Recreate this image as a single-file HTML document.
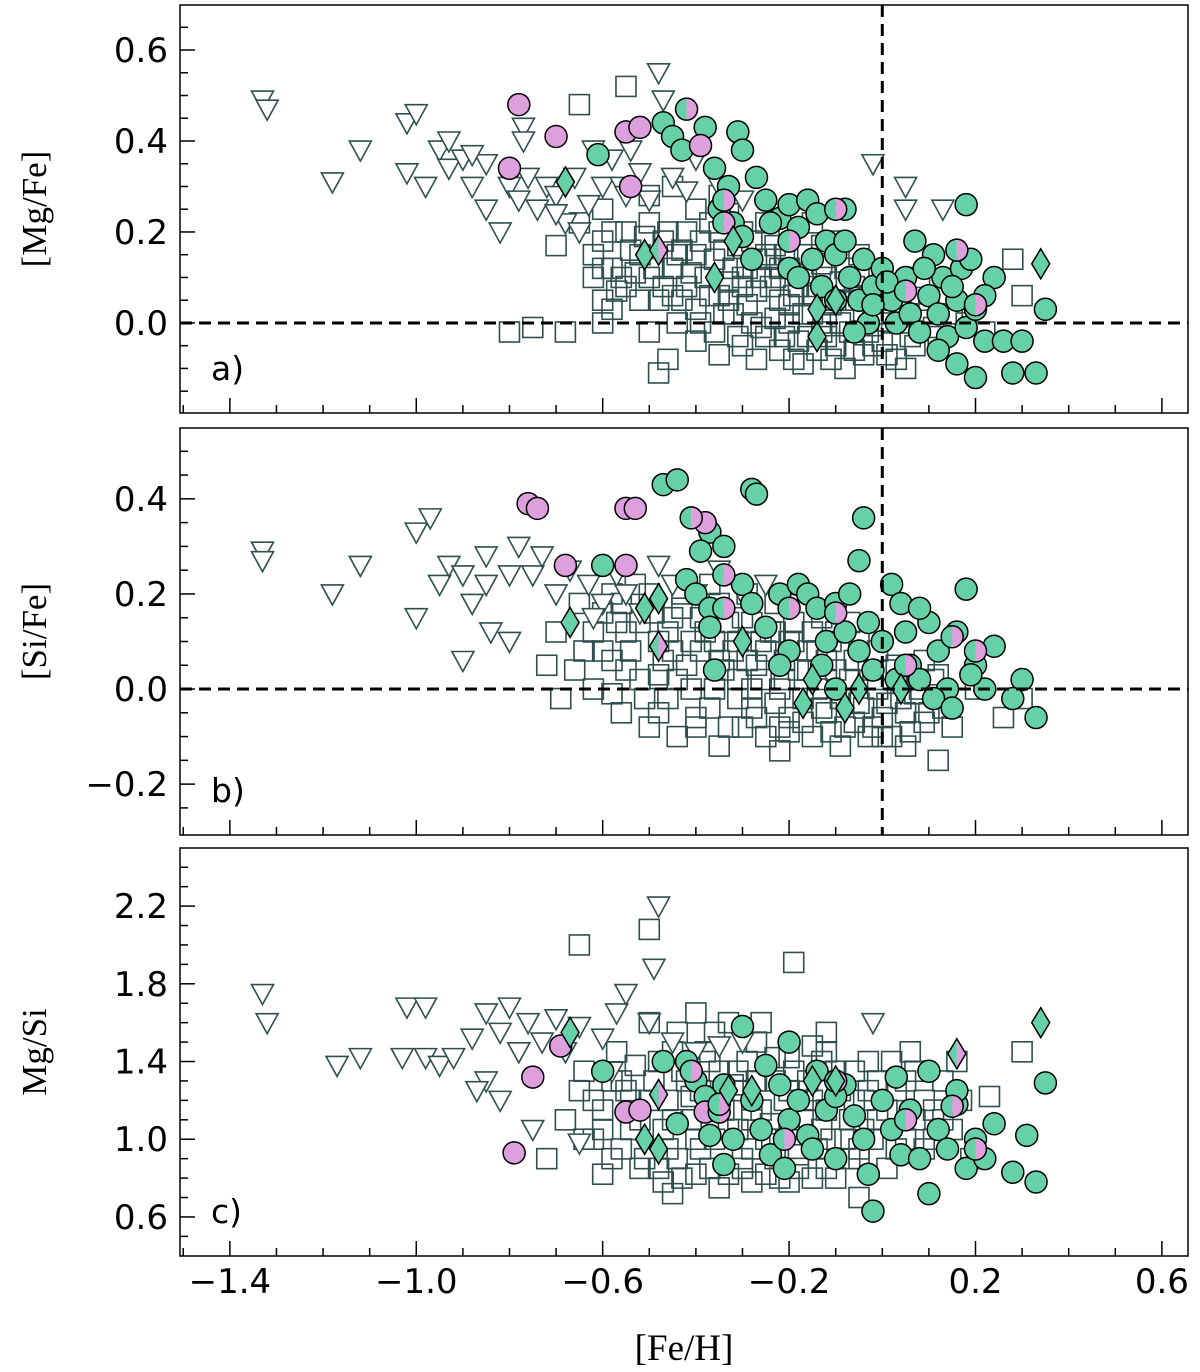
<!DOCTYPE html>
<html><head><meta charset="utf-8"><style>
html,body{margin:0;padding:0;background:#fff;}
svg{display:block;}
</style></head><body>
<svg id="chart" width="1200" height="1372" viewBox="0 0 1200 1372" xmlns="http://www.w3.org/2000/svg"></svg>
<script>
const xTickVals=[-1.4,-1.0,-0.6,-0.2,0.2,0.6];
const xTickLabels=["\u22121.4","\u22121.0","\u22120.6","\u22120.2","0.2","0.6"];
const yTicksA=[0.0,0.2,0.4,0.6]; const yLabelsA=["0.0","0.2","0.4","0.6"];
const yTicksB=[-0.2,0.0,0.2,0.4]; const yLabelsB=["\u22120.2","0.0","0.2","0.4"];
const yTicksC=[0.6,1.0,1.4,1.8,2.2]; const yLabelsC=["0.6","1.0","1.4","1.8","2.2"];

const squaresA=[[-0.55,0.52],[-0.65,0.48],[-0.48,-0.11],[-0.7,0.17],[-0.65,0.22],[-0.6,0.18],[-0.58,0.12],[-0.55,0.2],[-0.55,0.08],[-0.52,0.15],[-0.5,0.1],[-0.5,0.22],[-0.48,0.05],[-0.47,0.18],[-0.45,0.12],[-0.44,0.0],[-0.42,0.2],[-0.42,0.08],[-0.4,0.15],[-0.4,0.03],[-0.38,0.1],[-0.37,0.22],[-0.36,-0.02],[-0.35,0.06],[-0.34,0.16],[-0.32,0.12],[-0.32,0.02],[-0.3,0.08],[-0.3,-0.05],[-0.28,0.18],[-0.28,0.0],[-0.26,0.1],[-0.25,-0.03],[-0.24,0.14],[-0.22,0.05],[-0.22,-0.06],[-0.2,0.12],[-0.2,0.0],[-0.18,0.08],[-0.18,-0.04],[-0.16,0.15],[-0.15,0.02],[-0.14,-0.06],[-0.12,0.1],[-0.12,0.0],[-0.1,0.05],[-0.1,-0.05],[-0.08,0.12],[-0.07,-0.02],[-0.05,0.06],[-0.04,-0.07],[-0.02,0.02],[0.0,-0.04],[0.02,0.08],[0.03,-0.08],[0.05,0.0],[0.07,-0.05],[0.1,0.05],[0.12,-0.03],[0.15,0.02],[0.28,0.14],[0.3,0.06],[-0.5,-0.02],[-0.8,-0.02],[-0.75,-0.01],[-0.68,-0.02],[-0.6,0.0],[-0.46,-0.08],[-0.6,0.25],[-0.5,0.28],[-0.45,0.3],[-0.4,0.25],[-0.35,0.28],[-0.3,0.2],[-0.25,0.22],[-0.2,0.2],[-0.15,0.22],[-0.1,0.18],[-0.05,0.15],[0.0,0.1],[-0.6,0.05],[-0.35,-0.07],[-0.27,-0.08],[-0.17,-0.09],[-0.08,-0.1],[0.05,-0.1],[-0.62,0.1],[-0.58,0.03],[-0.33,0.24],[-0.23,0.17],[-0.13,0.17],[-0.03,0.1],[0.08,0.1],[0.18,0.0],[0.22,-0.02],
[-0.62,0.15],[-0.6,0.12],[-0.58,0.2],[-0.56,0.1],[-0.54,0.16],[-0.52,0.05],[-0.51,0.19],[-0.49,0.12],[-0.47,0.08],[-0.46,0.2],[-0.44,0.15],[-0.43,0.05],[-0.41,0.11],[-0.39,0.18],[-0.39,0.0],[-0.37,0.06],[-0.36,0.14],[-0.34,0.02],[-0.33,0.09],[-0.31,0.17],[-0.31,-0.03],[-0.29,0.04],[-0.29,0.12],[-0.27,0.07],[-0.26,-0.01],[-0.25,0.15],[-0.23,0.1],[-0.23,0.01],[-0.21,-0.03],[-0.21,0.15],[-0.19,0.06],[-0.19,-0.08],[-0.17,0.11],[-0.17,0.02],[-0.16,-0.03],[-0.14,0.08],[-0.13,0.13],[-0.13,-0.02],[-0.11,0.04],[-0.11,-0.08],[-0.09,0.09],[-0.09,0.0],[-0.07,0.05],[-0.06,-0.06],[-0.05,0.1],[-0.03,-0.02],[-0.01,0.05],[0.01,-0.07],[0.02,0.0],[0.04,0.04],[0.06,-0.03],[0.09,0.02],[0.11,-0.01],[-0.45,0.06],[-0.35,0.2],[-0.27,0.14],[-0.2,0.04],[-0.12,-0.03],[-0.04,0.02],[-0.57,0.07],[-0.53,0.11],[-0.43,0.16],[-0.33,0.05],[-0.24,0.08],[-0.15,0.06],[-0.06,0.08],[-0.02,-0.05],[-0.4,-0.04],[-0.3,0.1],[-0.22,0.12]];
const trianglesA=[[-1.33,0.49],[-1.32,0.47],[-1.18,0.31],[-1.12,0.38],[-1.02,0.44],[-1.0,0.46],[-1.02,0.33],[-0.98,0.3],[-0.95,0.38],[-0.93,0.34],[-0.9,0.36],[-0.88,0.3],[-0.85,0.35],[-0.85,0.25],[-0.82,0.2],[-0.8,0.3],[-0.78,0.27],[-0.76,0.32],[-0.74,0.25],[-0.72,0.3],[-0.7,0.28],[-0.68,0.22],[-0.66,0.32],[-0.63,0.26],[-0.6,0.3],[-0.58,0.36],[-0.56,0.3],[-0.54,0.38],[-0.52,0.33],[-0.5,0.27],[-0.48,0.55],[-0.47,0.49],[-0.45,0.32],[-0.42,0.29],[-0.4,0.36],[-0.77,0.43],[-0.77,0.4],[-0.62,0.38],[-0.55,0.28],[-0.02,0.35],[0.05,0.3],[0.05,0.25],[0.13,0.25],[-0.35,0.3],[-0.3,0.27],[-0.88,0.37],[-0.93,0.4],[-0.7,0.24],[-0.65,0.2]];
const circlesA=[[-0.61,0.37],[-0.47,0.44],[-0.45,0.41],[-0.43,0.38],[-0.38,0.43],[-0.36,0.34],[-0.33,0.3],[-0.31,0.42],[-0.3,0.38],[-0.27,0.32],[-0.35,0.25],[-0.32,0.22],[-0.3,0.19],[-0.28,0.14],[-0.25,0.27],[-0.22,0.23],[-0.2,0.26],[-0.18,0.21],[-0.16,0.27],[-0.14,0.24],[-0.12,0.18],[-0.1,0.15],[-0.08,0.25],[-0.2,0.12],[-0.18,0.1],[-0.15,0.14],[-0.13,0.08],[-0.1,0.05],[-0.07,0.1],[-0.05,0.05],[-0.03,0.0],[-0.04,0.14],[-0.02,0.08],[0.0,0.12],[0.02,0.05],[0.03,0.0],[0.05,0.1],[0.06,0.02],[0.08,-0.02],[0.1,0.06],[0.12,0.02],[0.13,0.1],[0.14,-0.03],[0.16,0.05],[0.17,0.12],[0.18,-0.01],[0.2,0.03],[0.22,-0.04],[0.24,0.1],[0.26,-0.04],[0.28,-0.11],[0.33,-0.11],[0.35,0.03],[0.3,-0.04],[0.18,0.26],[0.07,0.18],[0.11,0.15],[0.16,-0.09],[0.2,-0.12],[0.12,-0.06],[-0.02,0.04],[0.09,0.12],[0.19,0.14],[-0.24,0.22],[-0.08,0.18],[0.01,0.09],[0.15,0.08],[0.22,0.06],[-0.06,-0.02]];
const pinkA=[[-0.78,0.48],[-0.7,0.41],[-0.55,0.42],[-0.52,0.43],[-0.8,0.34],[-0.54,0.3],[-0.39,0.39]];
const halfA=[[-0.42,0.47],[-0.34,0.27],[-0.34,0.22],[-0.2,0.18],[-0.1,0.25],[0.05,0.07],[0.16,0.16],[0.2,0.04]];
const diamondsA=[[-0.68,0.31],[-0.51,0.15],[-0.36,0.1],[-0.32,0.18],[-0.14,0.03],[-0.14,-0.03],[0.34,0.13],[-0.1,0.05]];
const halfDiamondsA=[[-0.48,0.16]];

const squaresB=[[-0.72,0.05],[-0.69,-0.02],[-0.56,-0.05],[-0.22,-0.13],[0.12,-0.15],[-0.7,0.12],[-0.65,0.18],[-0.6,0.08],[-0.58,0.2],[-0.55,0.12],[-0.52,0.02],[-0.5,0.2],[-0.48,0.1],[-0.46,-0.02],[-0.45,0.15],[-0.42,0.05],[-0.4,-0.06],[-0.38,0.12],[-0.36,0.0],[-0.35,0.18],[-0.33,-0.08],[-0.32,0.08],[-0.3,0.15],[-0.28,-0.04],[-0.27,0.05],[-0.25,-0.1],[-0.24,0.12],[-0.22,0.0],[-0.2,-0.06],[-0.19,0.1],[-0.17,-0.02],[-0.15,-0.1],[-0.14,0.08],[-0.12,-0.05],[-0.1,0.04],[-0.08,-0.08],[-0.06,0.06],[-0.05,-0.03],[-0.03,-0.1],[-0.02,0.02],[0.0,-0.06],[0.02,0.04],[0.04,-0.02],[0.06,-0.09],[0.08,0.0],[0.1,-0.05],[0.12,0.03],[0.15,-0.08],[0.2,0.0],[0.26,-0.06],[0.3,-0.02],[-0.62,0.0],[-0.53,0.22],[-0.43,0.2],[-0.37,0.22],[-0.29,0.2],[-0.5,-0.08],[-0.44,-0.1],[-0.35,-0.12],[-0.23,0.18],[-0.13,0.15],[-0.09,-0.12],[0.05,-0.12],[-0.58,-0.01],[-0.48,0.03],[-0.41,0.1],[-0.31,0.02],[-0.21,0.06],[-0.11,0.1],[-0.01,0.08],[0.09,0.06],[-0.66,0.04],[-0.57,0.14],[-0.26,0.1],[-0.16,0.04],[0.0,-0.1],
[-0.62,0.12],[-0.6,0.16],[-0.58,0.06],[-0.56,0.18],[-0.54,0.08],[-0.52,0.14],[-0.51,-0.02],[-0.49,0.16],[-0.47,0.06],[-0.46,0.12],[-0.44,0.02],[-0.43,0.17],[-0.41,0.0],[-0.39,0.08],[-0.39,0.15],[-0.37,-0.04],[-0.36,0.1],[-0.34,0.04],[-0.33,0.14],[-0.31,-0.02],[-0.31,0.1],[-0.29,0.06],[-0.28,0.14],[-0.27,-0.06],[-0.26,0.02],[-0.25,0.08],[-0.23,-0.03],[-0.23,0.12],[-0.21,0.02],[-0.2,-0.09],[-0.19,0.14],[-0.18,0.04],[-0.17,-0.07],[-0.16,0.08],[-0.14,0.0],[-0.13,-0.04],[-0.12,0.06],[-0.11,-0.09],[-0.1,0.12],[-0.09,-0.02],[-0.07,0.02],[-0.06,-0.07],[-0.05,0.1],[-0.04,-0.04],[-0.02,-0.08],[-0.01,0.0],[0.01,-0.03],[0.03,0.05],[0.05,-0.05],[0.07,-0.01],[0.09,-0.07],[0.11,0.02],[0.13,-0.04],[-0.45,0.08],[-0.35,0.06],[-0.28,0.0],[-0.2,0.1],[-0.12,0.02],[-0.03,0.04],[-0.55,0.04],[-0.48,-0.05],[-0.4,-0.08],[-0.3,-0.08],[-0.22,-0.08],[-0.15,0.12],[-0.07,0.14],[0.02,-0.1],[-0.64,0.08]];
const trianglesB=[[-1.33,0.29],[-1.33,0.27],[-1.18,0.2],[-1.12,0.26],[-1.0,0.33],[-0.97,0.36],[-1.0,0.15],[-0.95,0.22],[-0.93,0.26],[-0.9,0.06],[-0.88,0.18],[-0.85,0.28],[-0.84,0.12],[-0.8,0.24],[-0.78,0.3],[-0.75,0.24],[-0.73,0.28],[-0.7,0.2],[-0.67,0.25],[-0.63,0.22],[-0.6,0.18],[-0.57,0.24],[-0.55,0.2],[-0.52,0.16],[-0.48,0.26],[-0.45,0.22],[-0.4,0.2],[-0.35,0.25],[-0.3,0.2],[-0.25,0.22],[-0.2,0.18],[-0.62,0.15],[-0.85,0.22],[-0.9,0.24],[-0.8,0.1]];
const circlesB=[[-0.47,0.43],[-0.44,0.44],[-0.28,0.42],[-0.27,0.41],[-0.04,0.36],[-0.6,0.26],[-0.37,0.33],[-0.34,0.3],[-0.39,0.29],[-0.42,0.23],[-0.4,0.2],[-0.37,0.17],[-0.37,0.13],[-0.36,0.04],[-0.3,0.22],[-0.28,0.18],[-0.25,0.13],[-0.22,0.2],[-0.2,0.08],[-0.22,0.05],[-0.18,0.22],[-0.16,0.2],[-0.14,0.17],[-0.12,0.1],[-0.1,0.18],[-0.08,0.12],[-0.05,0.08],[-0.05,0.27],[-0.03,0.14],[-0.02,0.04],[0.0,0.1],[0.02,0.22],[0.04,0.18],[0.05,0.12],[0.06,0.05],[0.08,0.02],[0.1,0.14],[0.12,0.08],[0.14,0.0],[0.16,0.12],[0.18,0.21],[0.2,0.05],[0.22,0.0],[0.24,0.09],[0.3,0.02],[0.33,-0.06],[0.28,-0.02],[-0.1,0.0],[0.03,0.02],[0.11,-0.02],[0.15,-0.04],[-0.07,0.2],[0.08,0.17],[-0.13,0.05],[0.19,0.03]];
const pinkB=[[-0.76,0.39],[-0.74,0.38],[-0.55,0.38],[-0.53,0.38],[-0.68,0.26],[-0.55,0.26],[-0.38,0.35]];
const halfB=[[-0.41,0.36],[-0.34,0.24],[-0.34,0.17],[-0.2,0.17],[-0.1,0.16],[0.05,0.05],[0.15,0.11],[0.2,0.08]];
const diamondsB=[[-0.67,0.14],[-0.51,0.17],[-0.48,0.19],[-0.3,0.1],[-0.15,0.02],[-0.17,-0.03],[-0.08,-0.04],[0.04,0.0],[-0.05,0.0]];
const halfDiamondsB=[[-0.48,0.09]];

const squaresC=[[-0.72,0.9],[-0.65,2.0],[-0.5,2.08],[-0.19,1.91],[-0.5,1.6],[-0.4,1.65],[-0.33,1.6],[0.3,1.45],[-0.2,0.78],[-0.45,0.72],[-0.05,0.7],[0.23,1.22],[-0.68,1.1],[-0.65,1.25],[-0.62,1.0],[-0.6,1.15],[-0.58,0.9],[-0.56,1.3],[-0.54,1.05],[-0.52,0.85],[-0.5,1.2],[-0.48,1.4],[-0.46,0.95],[-0.45,1.1],[-0.43,0.8],[-0.42,1.3],[-0.4,1.0],[-0.38,1.45],[-0.37,0.85],[-0.35,1.2],[-0.33,1.05],[-0.31,1.35],[-0.3,0.9],[-0.28,1.15],[-0.27,1.5],[-0.25,0.82],[-0.23,1.3],[-0.22,1.0],[-0.2,1.42],[-0.18,0.92],[-0.17,1.2],[-0.15,1.48],[-0.13,1.05],[-0.12,0.85],[-0.1,1.35],[-0.08,1.0],[-0.06,1.2],[-0.05,0.9],[-0.03,1.4],[-0.01,1.1],[0.01,0.85],[0.03,1.25],[0.05,1.0],[0.07,1.35],[0.09,0.95],[0.11,1.15],[0.13,1.3],[0.15,1.05],[0.17,1.2],[0.19,0.9],[-0.57,1.45],[-0.44,1.55],[-0.36,1.55],[-0.26,1.6],[-0.12,1.55],[-0.6,0.82],[-0.47,0.78],[-0.35,0.75],[-0.28,0.78],[-0.15,0.8],[-0.64,1.35],[-0.53,1.38],[-0.41,1.22],[-0.32,1.28],[-0.24,1.08],[-0.14,1.25],[-0.04,1.05],[0.06,1.45],[0.16,1.4],
[-0.62,1.2],[-0.6,1.05],[-0.58,1.3],[-0.56,0.95],[-0.54,1.2],[-0.52,1.1],[-0.51,0.9],[-0.49,1.3],[-0.47,1.05],[-0.46,1.2],[-0.44,0.9],[-0.43,1.35],[-0.41,1.1],[-0.39,0.95],[-0.39,1.25],[-0.37,1.4],[-0.36,1.0],[-0.34,1.15],[-0.33,0.82],[-0.31,1.25],[-0.31,1.05],[-0.29,1.4],[-0.28,0.95],[-0.27,1.3],[-0.26,1.15],[-0.25,1.0],[-0.23,1.42],[-0.23,0.9],[-0.21,1.2],[-0.2,1.05],[-0.19,1.35],[-0.18,0.85],[-0.17,1.1],[-0.16,1.3],[-0.14,0.95],[-0.13,1.4],[-0.12,1.15],[-0.11,1.0],[-0.1,0.8],[-0.09,1.25],[-0.07,1.1],[-0.06,1.35],[-0.05,0.95],[-0.04,1.2],[-0.02,1.0],[-0.01,1.3],[0.01,1.15],[0.03,0.95],[0.05,1.3],[0.07,1.1],[0.09,1.2],[0.11,1.0],[0.13,1.1],[-0.45,1.45],[-0.35,1.35],[-0.28,1.1],[-0.2,1.25],[-0.12,1.45],[-0.03,1.25],[-0.55,1.25],[-0.48,0.85],[-0.4,0.82],[-0.3,0.85],[-0.22,0.8],[-0.15,1.2],[-0.07,0.9],[0.02,1.4],[-0.64,1.0]];
const trianglesC=[[-1.33,1.75],[-1.32,1.6],[-1.17,1.38],[-1.12,1.42],[-1.02,1.68],[-0.98,1.68],[-1.03,1.42],[-0.98,1.42],[-0.95,1.38],[-0.92,1.42],[-0.88,1.52],[-0.85,1.65],[-0.82,1.55],[-0.8,1.68],[-0.85,1.3],[-0.82,1.2],[-0.78,1.45],[-0.76,1.6],[-0.73,1.5],[-0.7,1.62],[-0.68,1.45],[-0.65,1.58],[-0.6,1.52],[-0.57,1.65],[-0.55,1.75],[-0.5,1.6],[-0.48,2.2],[-0.49,1.88],[-0.45,1.5],[-0.4,1.45],[-0.35,1.48],[-0.3,1.5],[-0.75,1.05],[-0.65,0.98],[-0.02,1.6],[-0.58,1.35],[-0.87,1.25]];
const circlesC=[[-0.6,1.35],[-0.47,1.4],[-0.44,1.08],[-0.42,1.4],[-0.4,1.3],[-0.38,1.22],[-0.36,1.15],[-0.34,1.28],[-0.32,1.0],[-0.3,1.58],[-0.28,1.2],[-0.26,1.05],[-0.25,1.38],[-0.24,0.92],[-0.22,1.28],[-0.2,1.1],[-0.2,1.5],[-0.18,1.2],[-0.16,1.02],[-0.14,1.35],[-0.12,1.15],[-0.1,0.9],[-0.08,1.28],[-0.06,1.12],[-0.04,1.0],[-0.03,0.82],[-0.02,0.63],[0.0,1.2],[0.02,1.05],[0.04,0.92],[0.06,1.15],[0.08,0.9],[0.1,1.35],[0.1,0.72],[0.12,1.05],[0.14,0.95],[0.16,1.18],[0.18,0.85],[0.2,1.0],[0.22,0.9],[0.24,1.08],[0.28,0.83],[0.31,1.02],[0.33,0.78],[0.35,1.29],[-0.34,0.87],[-0.21,0.85],[0.03,1.32],[-0.1,1.22],[0.16,1.25],[-0.37,1.02],[-0.15,0.95]];
const pinkC=[[-0.79,0.93],[-0.75,1.32],[-0.69,1.48],[-0.55,1.14],[-0.52,1.15],[-0.38,1.14]];
const halfC=[[-0.41,1.35],[-0.35,1.14],[-0.35,1.18],[-0.21,1.0],[-0.1,1.3],[0.05,1.1],[0.15,1.17],[0.2,0.95]];
const diamondsC=[[-0.67,1.55],[-0.51,1.0],[-0.48,0.95],[-0.33,1.25],[-0.28,1.25],[-0.15,1.3],[0.34,1.6],[-0.1,1.3]];
const halfDiamondsC=[[-0.48,1.23],[0.16,1.44]];

const NS="http://www.w3.org/2000/svg";
const svg=document.getElementById('chart');
const GREEN="#66d1a8", PINK="#dda0dd", GREY="#2f4f4f";
const L=180,R=1188, XMIN=-1.507, XMAX=0.656;
function sx(v){return L+(v-XMIN)/(XMAX-XMIN)*(R-L);}
function mk(tag,attrs,parent){const e=document.createElementNS(NS,tag);for(const k in attrs)e.setAttribute(k,attrs[k]);(parent||svg).appendChild(e);return e;}

const panels=[
 {id:'a',top:5,bot:413,ymin:-0.198,ymax:0.699,ticks:yTicksA,labels:yLabelsA,minor:0.05,title:'[Mg/Fe]',tag:'a)',sq:squaresA,tri:trianglesA,ci:circlesA,pk:pinkA,hf:halfA,di:diamondsA,hd:halfDiamondsA,hline:true,vline:true},
 {id:'b',top:428,bot:835,ymin:-0.307,ymax:0.549,ticks:yTicksB,labels:yLabelsB,minor:0.05,title:'[Si/Fe]',tag:'b)',sq:squaresB,tri:trianglesB,ci:circlesB,pk:pinkB,hf:halfB,di:diamondsB,hd:halfDiamondsB,hline:true,vline:true},
 {id:'c',top:848,bot:1256,ymin:0.399,ymax:2.499,ticks:yTicksC,labels:yLabelsC,minor:0.1,title:'Mg/Si',tag:'c)',sq:squaresC,tri:trianglesC,ci:circlesC,pk:pinkC,hf:halfC,di:diamondsC,hd:halfDiamondsC,hline:false,vline:false}
];

panels.forEach(p=>{
  const sy=v=>p.bot-(v-p.ymin)/(p.ymax-p.ymin)*(p.bot-p.top);
  const g=mk('g',{});
  
  
  const cp=mk('clipPath',{id:'clip'+p.id},g);
  mk('rect',{x:L,y:p.top,width:R-L,height:p.bot-p.top},cp);
  const plot=mk('g',{'clip-path':'url(#clip'+p.id+')'},g);
  
  
  p.sq.forEach(d=>{const e=mk('rect',{x:sx(d[0])-10,y:sy(d[1])-10,width:20,height:20,fill:'none',stroke:GREY,'stroke-width':1.6},plot);
    
    });
  p.tri.forEach(d=>{const x=sx(d[0]),y=sy(d[1]);const e=mk('polygon',{points:`${x-11},${y-9} ${x+11},${y-9} ${x},${y+11}`,fill:'#fff',stroke:GREY,'stroke-width':1.6},plot);
    
    });
  p.ci.forEach(d=>{const e=mk('circle',{cx:sx(d[0]),cy:sy(d[1]),r:11,fill:GREEN,stroke:'#000','stroke-width':1.5},plot);
    
    });
  p.pk.forEach(d=>{const e=mk('circle',{cx:sx(d[0]),cy:sy(d[1]),r:11,fill:PINK,stroke:'#000','stroke-width':1.5},plot);
    
    });
  p.hf.forEach(d=>{const x=sx(d[0]),y=sy(d[1]);const gg=mk('g',{},plot);
    
    
    mk('path',{d:`M${x},${y-11} A11,11 0 0 0 ${x},${y+11} Z`,fill:GREEN},gg);
    mk('path',{d:`M${x},${y-11} A11,11 0 0 1 ${x},${y+11} Z`,fill:PINK},gg);
    mk('circle',{cx:x,cy:y,r:11,fill:'none',stroke:'#000','stroke-width':1.5},gg);});
  p.di.forEach(d=>{const x=sx(d[0]),y=sy(d[1]);const e=mk('polygon',{points:`${x},${y-15} ${x+9},${y} ${x},${y+15} ${x-9},${y}`,fill:GREEN,stroke:'#000','stroke-width':1.5},plot);
    
    });
  p.hd.forEach(d=>{const x=sx(d[0]),y=sy(d[1]);const gg=mk('g',{},plot);
    
    
    mk('polygon',{points:`${x},${y-15} ${x-9},${y} ${x},${y+15}`,fill:GREEN},gg);
    mk('polygon',{points:`${x},${y-15} ${x+9},${y} ${x},${y+15}`,fill:PINK},gg);
    mk('polygon',{points:`${x},${y-15} ${x+9},${y} ${x},${y+15} ${x-9},${y}`,fill:'none',stroke:'#000','stroke-width':1.5},gg);});
  if(p.hline){const e=mk('line',{x1:L,x2:R,y1:sy(0),y2:sy(0),stroke:'#000','stroke-width':3,'stroke-dasharray':'12,7'},plot);
    
    }
  if(p.vline){const e=mk('line',{x1:sx(0),x2:sx(0),y1:p.top,y2:p.bot,stroke:'#000','stroke-width':3,'stroke-dasharray':'12,7'},plot);
    
    }
  const fr=mk('rect',{x:L,y:p.top,width:R-L,height:p.bot-p.top,fill:'none',stroke:'#000','stroke-width':1.5},g);
  
  
  for(let k=-15;k<=6;k++){const v=k/10;const x=sx(v);if(x<L||x>R)continue;
    const major=xTickVals.some(t=>Math.abs(t-v)<1e-6);
    mk('line',{x1:x,x2:x,y1:p.bot,y2:p.bot-(major?15:8),stroke:'#000','stroke-width':1.5},g);}
  const m=Math.round(1/p.minor);
  for(let k=Math.ceil(p.ymin*m);k<=Math.floor(p.ymax*m);k++){const v=k/m;const y=sy(v);
    if(y>p.bot-6)continue;
    const major=p.ticks.some(t=>Math.abs(t-v)<1e-6);
    mk('line',{x1:L,x2:L+(major?15:8),y1:y,y2:y,stroke:'#000','stroke-width':1.5},g);}
  p.ticks.forEach((t,i)=>{const e=mk('text',{x:L-12,y:sy(t)+12,'text-anchor':'end','font-family':'DejaVu Sans, Liberation Sans, sans-serif','font-size':34},g);
    e.textContent=p.labels[i];
    
    });
  const cy=(p.top+p.bot)/2;
  const yt=mk('text',{x:0,y:0,transform:`translate(46,${cy}) rotate(-90)`,'text-anchor':'middle','font-family':'Liberation Serif, serif','font-size':35},g);
  yt.textContent=p.title;
  
  
  const tg=mk('text',{x:211,y:p.bot-33,'font-family':'DejaVu Sans, Liberation Sans, sans-serif','font-size':33},g);
  tg.textContent=p.tag;
  
  
});
xTickVals.forEach((v,i)=>{const e=mk('text',{x:sx(v),y:1293,'text-anchor':'middle','font-family':'DejaVu Sans, Liberation Sans, sans-serif','font-size':34});
  e.textContent=xTickLabels[i];
  
  });
const xt=mk('text',{x:684,y:1360,'text-anchor':'middle','font-family':'Liberation Serif, serif','font-size':37});
xt.textContent='[Fe/H]';


</script>
</body></html>
